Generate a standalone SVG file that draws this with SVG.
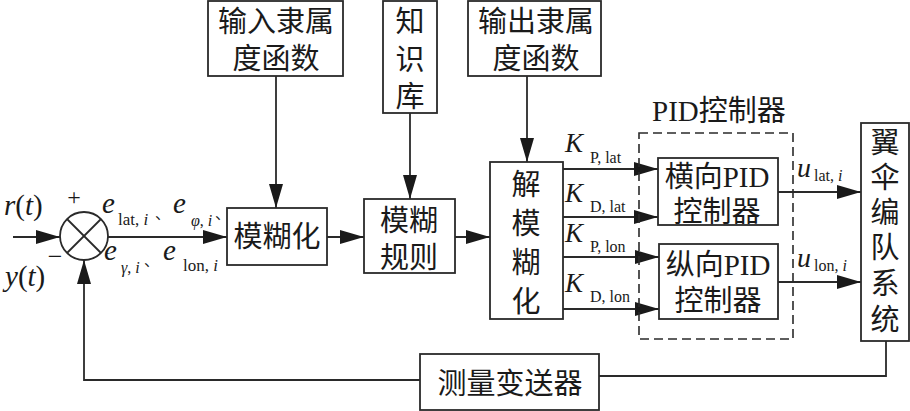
<svg xmlns="http://www.w3.org/2000/svg" width="910" height="411" viewBox="0 0 910 411">
<defs>
<marker id="ah" markerWidth="24" markerHeight="14" refX="24" refY="7" orient="auto" markerUnits="userSpaceOnUse">
<path d="M0,0 L24,7 L0,14 Z" fill="#1a1a1a"/>
</marker>
</defs>
<style>
.box{fill:#fff;stroke:#2a2a2a;stroke-width:1.8}
.ln{fill:none;stroke:#2a2a2a;stroke-width:1.8}
.dash{fill:none;stroke:#2a2a2a;stroke-width:1.6;stroke-dasharray:9 5}
.cn{font-family:"Liberation Serif","Noto Sans CJK SC",serif;font-size:29px;fill:#1a1a1a}
.it{font-family:"Liberation Serif",serif;font-style:italic;fill:#1a1a1a}
.rm{font-family:"Liberation Serif",serif;fill:#1a1a1a}
.mid{text-anchor:middle}
.sym{font-family:"Liberation Serif","Noto Sans CJK SC",serif;fill:#1a1a1a}
</style>
<rect width="910" height="411" fill="#fff"/>

<g id="connectors">
<line class="ln" x1="13" y1="237" x2="60" y2="237" marker-end="url(#ah)"/>
<line class="ln" x1="108" y1="237" x2="227" y2="237" marker-end="url(#ah)"/>
<line class="ln" x1="327" y1="237" x2="364" y2="237" marker-end="url(#ah)"/>
<line class="ln" x1="455" y1="237" x2="490" y2="237" marker-end="url(#ah)"/>
<line class="ln" x1="276" y1="76" x2="276" y2="208" marker-end="url(#ah)"/>
<line class="ln" x1="410" y1="113" x2="410" y2="199" marker-end="url(#ah)"/>
<line class="ln" x1="527" y1="76" x2="527" y2="162" marker-end="url(#ah)"/>
<line class="ln" x1="563" y1="169" x2="658" y2="169" marker-end="url(#ah)"/>
<line class="ln" x1="563" y1="217" x2="658" y2="217" marker-end="url(#ah)"/>
<line class="ln" x1="563" y1="257" x2="659" y2="257" marker-end="url(#ah)"/>
<line class="ln" x1="563" y1="309" x2="659" y2="309" marker-end="url(#ah)"/>
<line class="ln" x1="778" y1="192" x2="861" y2="192" marker-end="url(#ah)"/>
<line class="ln" x1="778" y1="282" x2="861" y2="282" marker-end="url(#ah)"/>
<polyline class="ln" points="886,341 886,376 599,376"/>
<polyline class="ln" points="420,380 84,380 84,260" marker-end="url(#ah)"/>
</g>

<g id="sum">
<circle cx="84" cy="236" r="24" fill="#fff" stroke="#2a2a2a" stroke-width="1.8"/>
<line class="ln" x1="67" y1="219" x2="101" y2="253"/>
<line class="ln" x1="101" y1="219" x2="67" y2="253"/>
<text class="rm" x="74" y="205" font-size="24" text-anchor="middle">+</text>
<text class="rm" x="55" y="265" font-size="26" text-anchor="middle">−</text>
</g>

<g id="signals">
<text class="it" x="4" y="215" font-size="29">r<tspan font-style="normal">(</tspan>t<tspan font-style="normal">)</tspan></text>
<text class="it" x="5" y="286" font-size="29">y<tspan font-style="normal">(</tspan>t<tspan font-style="normal">)</tspan></text>
<text class="sym" font-size="29"><tspan font-style="italic" x="102" y="213">e</tspan><tspan font-size="17" x="118" y="225">lat, <tspan font-style="italic">i</tspan></tspan><tspan font-size="15" x="155" y="219">、</tspan><tspan font-style="italic" x="173" y="213">e</tspan><tspan font-size="16" font-style="italic" x="191" y="226">φ<tspan font-style="normal">, </tspan>i</tspan><tspan font-size="15" x="215" y="219">、</tspan></text>
<text class="sym" font-size="29"><tspan font-style="italic" x="104" y="260">e</tspan><tspan font-size="16" font-style="italic" x="121" y="273">γ<tspan font-style="normal">, </tspan>i</tspan><tspan font-size="15" x="144" y="266">、</tspan><tspan font-style="italic" x="163" y="260">e</tspan><tspan font-size="17" x="183" y="271">lon, <tspan font-style="italic">i</tspan></tspan></text>

<text class="rm" font-size="27"><tspan font-style="italic" x="565" y="152">K</tspan><tspan font-size="16" x="590" y="163">P, lat</tspan></text>
<text class="rm" font-size="27"><tspan font-style="italic" x="565" y="202">K</tspan><tspan font-size="16" x="590" y="212">D, lat</tspan></text>
<text class="rm" font-size="27"><tspan font-style="italic" x="565" y="242">K</tspan><tspan font-size="16" x="590" y="252">P, lon</tspan></text>
<text class="rm" font-size="27"><tspan font-style="italic" x="565" y="292">K</tspan><tspan font-size="16" x="590" y="302">D, lon</tspan></text>

<text class="rm" font-size="28"><tspan font-style="italic" x="797" y="177">u</tspan><tspan font-size="16" x="814" y="181">lat, <tspan font-style="italic">i</tspan></tspan></text>
<text class="rm" font-size="28"><tspan font-style="italic" x="797" y="267">u</tspan><tspan font-size="16" x="814" y="271">lon, <tspan font-style="italic">i</tspan></tspan></text>
</g>

<g id="input-mf">
<rect class="box" x="208" y="1" width="135" height="75"/>
<text class="cn mid" x="276" y="32">输入隶属</text>
<text class="cn mid" x="276" y="69">度函数</text>
</g>

<g id="knowledge">
<rect class="box" x="383" y="1" width="54" height="112"/>
<text class="cn mid" x="410" y="32">知</text>
<text class="cn mid" x="410" y="70">识</text>
<text class="cn mid" x="410" y="107">库</text>
</g>

<g id="output-mf">
<rect class="box" x="468" y="1" width="133" height="75"/>
<text class="cn mid" x="536" y="32">输出隶属</text>
<text class="cn mid" x="536" y="69">度函数</text>
</g>

<g id="fuzzify">
<rect class="box" x="227" y="208" width="100" height="57"/>
<text class="cn mid" x="277" y="247">模糊化</text>
</g>

<g id="rules">
<rect class="box" x="364" y="199" width="91" height="74"/>
<text class="cn mid" x="409" y="231">模糊</text>
<text class="cn mid" x="409" y="268">规则</text>
</g>

<g id="defuzzify">
<rect class="box" x="490" y="162" width="73" height="157"/>
<text class="cn mid" x="526" y="195">解</text>
<text class="cn mid" x="526" y="234">模</text>
<text class="cn mid" x="526" y="273">糊</text>
<text class="cn mid" x="526" y="312">化</text>
</g>

<g id="pid-group">
<rect class="dash" x="639" y="133" width="154" height="206"/>
<text class="cn" x="652" y="121">PID控制器</text>
</g>

<g id="pid-lat">
<rect class="box" x="658" y="158" width="120" height="67"/>
<text class="cn mid" x="717" y="187">横向PID</text>
<text class="cn mid" x="717" y="222">控制器</text>
</g>

<g id="pid-lon">
<rect class="box" x="659" y="244" width="119" height="75"/>
<text class="cn mid" x="718" y="275">纵向PID</text>
<text class="cn mid" x="718" y="311">控制器</text>
</g>

<g id="system">
<rect class="box" x="861" y="123" width="48" height="218"/>
<text class="cn mid" x="885" y="153">翼</text>
<text class="cn mid" x="885" y="188">伞</text>
<text class="cn mid" x="885" y="223">编</text>
<text class="cn mid" x="885" y="258">队</text>
<text class="cn mid" x="885" y="294">系</text>
<text class="cn mid" x="885" y="330">统</text>
</g>

<g id="sensor">
<rect class="box" x="420" y="354" width="179" height="56"/>
<text class="cn mid" x="510" y="394">测量变送器</text>
</g>
</svg>
